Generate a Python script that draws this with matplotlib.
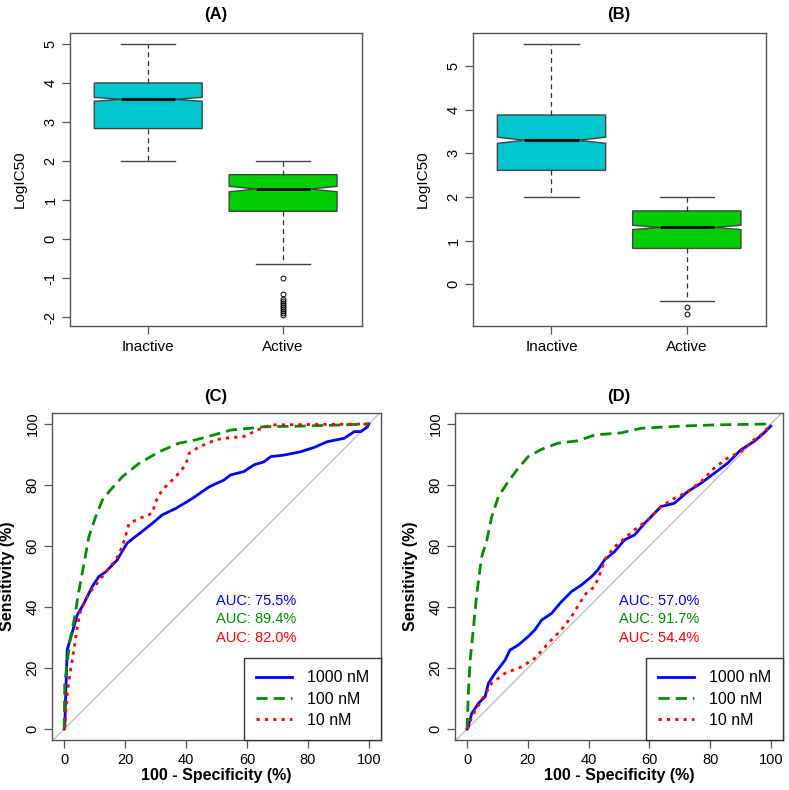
import numpy as np
import matplotlib
matplotlib.use('Agg')
import matplotlib.pyplot as plt

plt.rcParams['font.family'] = ['Liberation Sans', 'DejaVu Sans']
plt.rcParams['axes.unicode_minus'] = False

# ---- box plot data ----
groups = ['Inactive', 'Active']
box_colors = ['#00C5CD', '#00CD00']

# panel A
a_med = [3.58, 1.28]
a_q1 = [2.83, 0.71]
a_q3 = [4.00, 1.65]
a_lo = [2.00, -0.65]
a_hi = [5.00, 2.00]
a_ci = [(3.53, 3.63), (1.21, 1.35)]
a_out = [[], [-1.0, -1.4, -1.55, -1.6, -1.65, -1.7, -1.75, -1.8, -1.85, -1.9, -1.95]]

# panel B
b_med = [3.30, 1.30]
b_q1 = [2.61, 0.82]
b_q3 = [3.88, 1.68]
b_lo = [2.00, -0.39]
b_hi = [5.50, 2.00]
b_ci = [(3.23, 3.37), (1.25, 1.35)]
b_out = [[], [-0.53, -0.68]]

# ---- ROC curves: (100 - specificity, sensitivity) in % ----
c1000_x = [0, 0.2, 0.4, 1.0, 2.6, 4.3, 6.5, 9.2, 11.4, 13.6, 17.4, 18.0, 20.7, 24.6, 28.9, 32.2,
           36.6, 42.1, 47.6, 52.4, 54.6, 59.0, 62.3, 65.6, 67.8, 72.1, 77.6, 82.0, 86.4, 91.9,
           95.2, 97.4, 99.6, 100]
c1000_y = [0, 0.8, 8.4, 26, 31.5, 37.4, 41.2, 46.7, 50, 51.5, 55.4, 56.5, 61, 64, 67.4, 70.2,
           72.3, 75.6, 79.4, 81.6, 83.3, 84.4, 86.6, 87.6, 89.3, 89.8, 90.9, 92.3, 94.2, 95.3,
           97.5, 97.5, 99.1, 100]
c100_x = [0, 0.2, 1.0, 1.9, 3.5, 4.6, 5.9, 8.1, 10.3, 12.5, 14.7, 19.1, 24.6, 31.2, 37.7, 43.2,
          50.9, 54.6, 61.0, 65.6, 77.5, 88.5, 100]
c100_y = [0, 15, 22, 29, 37, 44, 51, 63, 69.5, 75, 77.8, 82.7, 87.1, 90.9, 93.7, 94.8,
          96.9, 98, 98.6, 99.1, 99.3, 99.6, 100]
c10_x = [0, 0.2, 1.0, 2.1, 3.2, 4.3, 5.4, 8.1, 12.5, 16.9, 19.1, 21.3, 24.6, 28.9, 30.0, 32.2,
         36.6, 39.9, 41.0, 44.3, 49.8, 52.4, 59.0, 63.4, 67.8, 100]
c10_y = [0, 0.4, 11.7, 19.3, 26, 33.5, 39, 44.4, 50, 55.4, 59.8, 67.4, 69, 70.7, 74.5, 78.4,
         82.7, 86.6, 90.4, 92.5, 94.8, 95.3, 95.9, 98, 99.7, 100]

d1000_x = [0, 0.2, 1.5, 3.7, 5.9, 7.0, 9.2, 12.5, 14.1, 16.8, 20.1, 22.3, 24.5, 27.8, 31.0, 34.3,
           37.6, 40.9, 43.0, 45.2, 48.5, 51.8, 55.1, 58.4, 63.8, 68.2, 72.6, 77.0, 81.3, 85.7,
           90.1, 94.4, 97.7, 100]
d1000_y = [0, 0.2, 5.1, 8.4, 10.6, 15, 18.3, 22.6, 25.9, 27.5, 30.3, 32.5, 35.7, 37.9, 41.7, 45,
           47.2, 49.9, 52.1, 55.4, 58.1, 62, 63.6, 67.4, 72.9, 74, 77.8, 80.6, 83.8, 87.1,
           91.5, 94.2, 97, 99.3]
d100_x = [0, 0.0, 0.4, 1.0, 2.1, 3.2, 4.3, 4.8, 6.5, 8.1, 10.3, 13.5, 16.8, 20.1, 24.5, 29.9,
          36.5, 42.0, 50.7, 57.3, 70.4, 81.3, 100]
d100_y = [0, 0.8, 11.7, 22.6, 33.5, 44.5, 53, 56.5, 62, 69.6, 76.2, 81.1, 85.5, 89.3, 91.7, 93.7,
          94.5, 96.4, 97.1, 98.6, 99.3, 99.7, 100]
d10_x = [0, 1.5, 4.8, 8.1, 12.5, 17.9, 22.3, 26.7, 31.0, 34.3, 37.0, 39.2, 42.0, 44.2, 45.2, 48.5,
         55.1, 59.5, 63.8, 68.2, 72.6, 77.0, 81.3, 85.7, 90.1, 94.4, 97.7, 100]
d10_y = [0, 4, 9.5, 15, 18.3, 20.4, 23.2, 28.1, 32.5, 36.8, 41.2, 44.5, 46.7, 52.1, 55.4, 59.7,
         65.3, 68.5, 72.9, 75.6, 77.8, 81.1, 85.5, 88.8, 90.9, 94.8, 97, 100]

auc_c = ['AUC: 75.5%', 'AUC: 89.4%', 'AUC: 82.0%']
auc_d = ['AUC: 57.0%', 'AUC: 91.7%', 'AUC: 54.4%']
legend_labels = ['1000 nM', '100 nM', '10 nM']
roc_colors = ['#0000FF', '#008B00', '#FF0000']

frame_col = '#555555'

fig = plt.figure(figsize=(7.89, 7.90), dpi=100)


def style_axes(ax):
    for s in ax.spines.values():
        s.set_color(frame_col)
        s.set_linewidth(1.0)
    ax.tick_params(axis='both', direction='out', length=6, width=0.9, color=frame_col,
                   labelsize=10.5, pad=3)
    ax.tick_params(axis='y', labelrotation=90)
    for lab in ax.get_yticklabels():
        lab.set_va('center')


def draw_box(ax, med, q1, q3, lo, hi, ci, out, ylim, yticks):
    stats = []
    for i in range(2):
        stats.append(dict(med=med[i], q1=q1[i], q3=q3[i], whislo=lo[i], whishi=hi[i],
                          cilo=ci[i][0], cihi=ci[i][1], fliers=out[i], label=groups[i]))
    bp = ax.bxp(stats, positions=[1, 2], widths=0.8, shownotches=True, patch_artist=True,
                boxprops=dict(edgecolor='#444444', linewidth=1.0),
                whiskerprops=dict(color='#333333', linestyle=(0, (4, 3)), linewidth=0.9),
                capprops=dict(color='#444444', linewidth=1.0),
                medianprops=dict(color='black', linewidth=2.0),
                flierprops=dict(marker='o', markersize=3.5, markerfacecolor='none',
                                markeredgecolor='black', markeredgewidth=0.7))
    for patch, col in zip(bp['boxes'], box_colors):
        patch.set_facecolor(col)
    ax.set_xlim(0.42, 2.585)
    ax.set_ylim(*ylim)
    ax.set_yticks(yticks)
    ax.set_xticks([1, 2])
    ax.set_xticklabels(groups)
    style_axes(ax)
    ax.tick_params(axis='x', labelsize=11, pad=4)
    ax.set_ylabel('LogIC50', fontsize=11)


def draw_roc(ax, curves, aucs):
    ax.axline((0, 0), (100, 100), color='#BBBBBB', linewidth=0.9, zorder=1)
    styles = ['-', (0, (4, 2.2)), (0, (1.2, 1.8))]
    handles = []
    for (xs, ys), col, ls, lab in zip(curves, roc_colors, styles, legend_labels):
        h, = ax.plot(xs, ys, color=col, linestyle=ls, linewidth=2.0, label=lab, zorder=3)
        handles.append(h)
    for k, (txt, col) in enumerate(zip(aucs, roc_colors)):
        ax.text(50, 42 - 6 * k, txt, color=col, fontsize=10.5, ha='left', va='center')
    ax.set_xlim(-4, 104)
    ax.set_ylim(-3.6, 103.6)
    ax.set_xticks(range(0, 101, 20))
    ax.set_yticks(range(0, 101, 20))
    style_axes(ax)
    ax.tick_params(axis='both', labelsize=10.5)
    ax.set_xlabel('100 - Specificity (%)', fontsize=11.5, fontweight='bold', labelpad=1)
    ax.set_ylabel('Sensitivity (%)', fontsize=11.5, fontweight='bold')
    leg = ax.legend(handles=handles, loc='lower right', borderaxespad=0, fancybox=False,
                    fontsize=11.5, handlelength=2.2, handletextpad=0.95, borderpad=0.75,
                    labelspacing=0.4, framealpha=1)
    leg.get_frame().set_edgecolor('#333333')
    leg.get_frame().set_linewidth(1.0)


W, H = 789, 790


def pos(x0, y0, x1, y1):
    return [x0 / W, 1 - y1 / H, (x1 - x0) / W, (y1 - y0) / H]


axA = fig.add_axes(pos(70, 33, 362, 326))
draw_box(axA, a_med, a_q1, a_q3, a_lo, a_hi, a_ci, a_out, (-2.23, 5.28), range(-2, 6))
axA.yaxis.set_label_coords(-43 / 292, 0.5)

axB = fig.add_axes(pos(473, 33, 766, 326))
draw_box(axB, b_med, b_q1, b_q3, b_lo, b_hi, b_ci, b_out, (-0.96, 5.76), range(0, 6))
axB.yaxis.set_label_coords(-43 / 293, 0.5)

axC = fig.add_axes(pos(52, 413, 381, 740))
draw_roc(axC, [(c1000_x, c1000_y), (c100_x, c100_y), (c10_x, c10_y)], auc_c)
axC.yaxis.set_label_coords(-37 / 329, 0.5)

axD = fig.add_axes(pos(455, 413, 783, 740))
draw_roc(axD, [(d1000_x, d1000_y), (d100_x, d100_y), (d10_x, d10_y)], auc_d)
axD.yaxis.set_label_coords(-37 / 328, 0.5)

for lab, x, y in [('(A)', 216, 15), ('(B)', 619, 15), ('(C)', 216, 396), ('(D)', 619, 396)]:
    fig.text(x / W, 1 - y / H, lab, fontsize=12, fontweight='bold', ha='center', va='center')

fig.savefig('out.png', dpi=100)
